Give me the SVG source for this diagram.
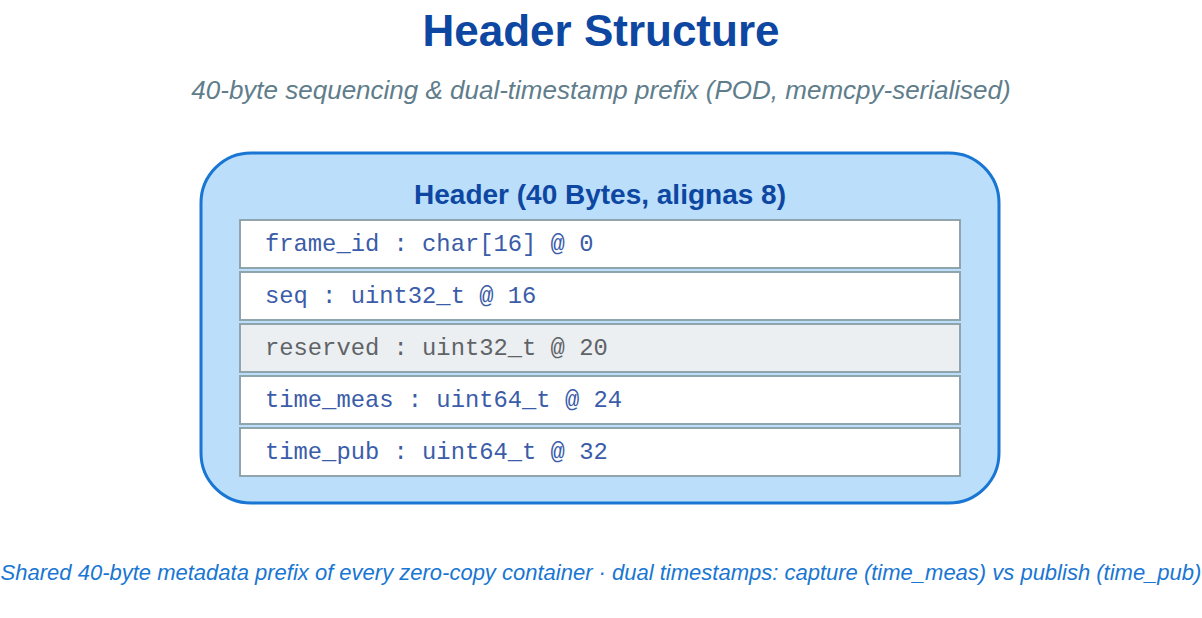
<svg xmlns="http://www.w3.org/2000/svg" width="1202" height="618" viewBox="0 0 1202 618">
<style>
.title{font-family:"Liberation Sans",Arial,sans-serif;font-weight:bold;font-size:44px;fill:#0d47a1;text-anchor:middle}
.sub{font-family:"Liberation Sans",Arial,sans-serif;font-style:italic;font-size:26px;fill:#607d8b;text-anchor:middle}
.foot{font-family:"Liberation Sans",Arial,sans-serif;font-style:italic;font-size:22px;fill:#1976d2;text-anchor:middle}
.hdr{font-family:"Liberation Sans",Arial,sans-serif;font-weight:bold;font-size:28px;fill:#0d47a1;text-anchor:middle}
.row{fill:#ffffff;stroke:#90a4ae;stroke-width:2}
.row.res{fill:#eceff1}
.fld{font-family:"Liberation Mono","Courier New",monospace;font-size:23.8px;fill:#3b5ca8}
.fld.res{fill:#5f6368}
</style>
<rect width="1202" height="618" fill="#ffffff"/>
<text class="title" x="601" y="46">Header Structure</text>
<text class="sub" x="601" y="99">40-byte sequencing &amp; dual-timestamp prefix (POD, memcpy-serialised)</text>
<g id="header">
<rect x="201" y="153" width="798" height="350" rx="50" ry="50" fill="#bbdefb" stroke="#1976d2" stroke-width="3"/>
<text class="hdr" x="600" y="204">Header (40 Bytes, alignas 8)</text>
</g>
<g id="frame_id">
<rect class="row" x="240" y="220" width="720" height="48"/>
<text class="fld" x="265" y="251">frame_id : char[16] @ 0</text>
</g>
<g id="seq">
<rect class="row" x="240" y="272" width="720" height="48"/>
<text class="fld" x="265" y="303">seq : uint32_t @ 16</text>
</g>
<g id="reserved">
<rect class="row res" x="240" y="324" width="720" height="48"/>
<text class="fld res" x="265" y="355">reserved : uint32_t @ 20</text>
</g>
<g id="time_meas">
<rect class="row" x="240" y="376" width="720" height="48"/>
<text class="fld" x="265" y="407">time_meas : uint64_t @ 24</text>
</g>
<g id="time_pub">
<rect class="row" x="240" y="428" width="720" height="48"/>
<text class="fld" x="265" y="459">time_pub : uint64_t @ 32</text>
</g>
<g id="connectors"/>
<text class="foot" x="601" y="580">Shared 40-byte metadata prefix of every zero-copy container · dual timestamps: capture (time_meas) vs publish (time_pub)</text>
</svg>
